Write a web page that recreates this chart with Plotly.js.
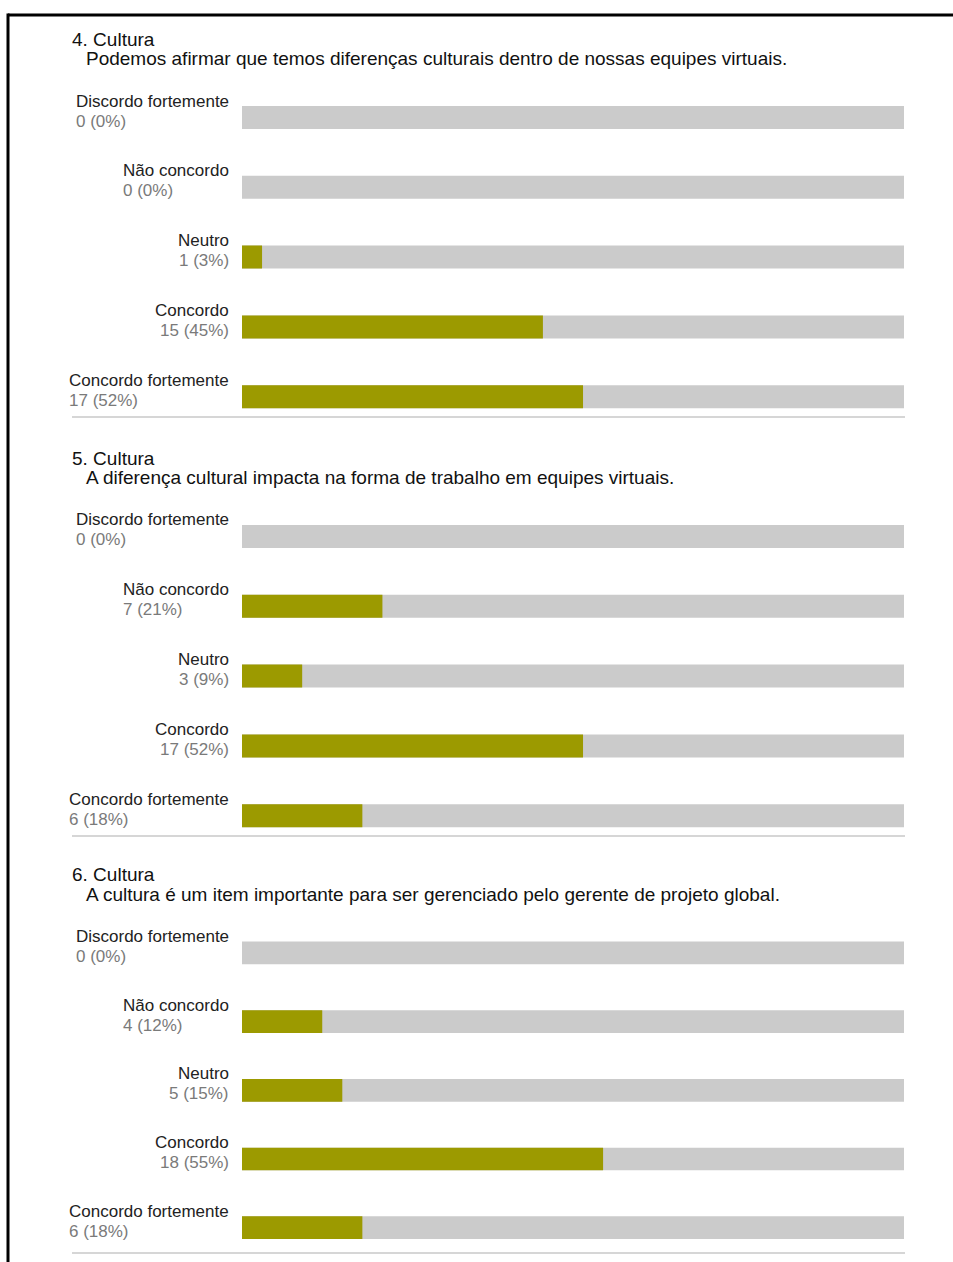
<!DOCTYPE html>
<html>
<head>
<meta charset="utf-8">
<script src="https://cdn.plot.ly/plotly-3.0.1.min.js"></script>
<style>
  html, body { margin: 0; padding: 0; background: #fff; }
  #chart { width: 953px; height: 1262px; }
</style>
</head>
<body>
<div id="chart"></div>
<script>
// ---- data ----
const categories = ["Discordo fortemente", "Não concordo", "Neutro", "Concordo", "Concordo fortemente"];
const questionTitles = ["4. Cultura", "5. Cultura", "6. Cultura"];
const questionTexts = [
  "Podemos afirmar que temos diferenças culturais dentro de nossas equipes virtuais.",
  "A diferença cultural impacta na forma de trabalho em equipes virtuais.",
  "A cultura é um item importante para ser gerenciado pelo gerente de projeto global."
];
const q4Counts = [0, 0, 1, 15, 17];
const q4Pct = [0, 0, 3, 45, 52];
const q5Counts = [0, 7, 3, 17, 6];
const q5Pct = [0, 21, 9, 52, 18];
const q6Counts = [0, 4, 5, 18, 6];
const q6Pct = [0, 12, 15, 55, 18];
const scaleMax = 100;

// ---- layout geometry (pixels) ----
const W = 953, H = 1262;
const px = x => x / W;
const py = y => 1 - y / H;
const sectionFirstRow = [117.5, 536.5, 953.5];
const rowStep = 69.8;
const barLeft = 242, barRight = 904;
const labelRight = 229;
const FONT = "'Liberation Sans', Arial, Helvetica, sans-serif";
const labelSize = 17, titleSize = 19;

const green = "#9c9a00", track = "#cbcbcb";

const measure = (() => {
  const c = document.createElement("canvas").getContext("2d");
  return (t, s) => { c.font = s + "px 'Liberation Sans', Arial, sans-serif"; return c.measureText(t).width; };
})();

const questions = [
  { counts: q4Counts, pct: q4Pct },
  { counts: q5Counts, pct: q5Pct },
  { counts: q6Counts, pct: q6Pct }
];

const traces = [];
const annotations = [];
const shapes = [];
const layout = {
  width: W, height: H,
  margin: { l: 0, r: 0, t: 0, b: 0 },
  paper_bgcolor: "#fff", plot_bgcolor: "#fff",
  showlegend: false,
  barmode: "overlay",
  font: { family: FONT, size: labelSize, color: "#222" },
  annotations: annotations,
  shapes: shapes
};

questions.forEach((q, i) => {
  const n = i === 0 ? "" : String(i + 1);
  const xa = "x" + n, ya = "y" + n;
  const c0 = sectionFirstRow[i];
  const top = c0 - rowStep / 2;
  const bottom = c0 + rowStep * (categories.length - 0.5);
  layout["xaxis" + n] = {
    domain: [px(barLeft), px(barRight)], range: [0, scaleMax],
    visible: false, fixedrange: true, anchor: ya
  };
  layout["yaxis" + n] = {
    domain: [py(bottom), py(top)], type: "category",
    categoryorder: "array", categoryarray: categories,
    range: [categories.length - 0.5, -0.5],
    visible: false, fixedrange: true, anchor: xa
  };
  const total = q.counts.reduce((a, b) => a + b, 0);
  traces.push({
    type: "bar", orientation: "h", xaxis: xa, yaxis: ya,
    y: categories, x: categories.map(() => scaleMax),
    width: 0.33, marker: { color: track }, hoverinfo: "skip"
  });
  traces.push({
    type: "bar", orientation: "h", xaxis: xa, yaxis: ya,
    y: categories, x: q.counts.map(v => v / total * scaleMax),
    width: 0.33, marker: { color: green }, hoverinfo: "skip"
  });

  categories.forEach((cat, k) => {
    const countText = q.counts[k] + " (" + q.pct[k] + "%)";
    const lw = measure(cat, labelSize), cw = measure(countText, labelSize);
    annotations.push({
      xref: "paper", yref: ya, x: px(labelRight), y: cat,
      xanchor: "right", yanchor: "middle", yshift: 16.5,
      borderpad: 0, borderwidth: 0,
      text: cat, showarrow: false,
      font: { family: FONT, size: labelSize, color: "#222" }
    });
    const leftAligned = lw - cw > 20;
    annotations.push({
      xref: "paper", yref: ya,
      x: leftAligned ? px(labelRight - lw) : px(labelRight), y: cat,
      xanchor: leftAligned ? "left" : "right", yanchor: "middle", yshift: -3.5,
      borderpad: 0, borderwidth: 0,
      text: countText, showarrow: false,
      font: { family: FONT, size: labelSize, color: "#7a7a7a" }
    });
  });

  annotations.push({
    xref: "paper", yref: "paper", x: px(72), y: py(c0 - 78.5),
    xanchor: "left", yanchor: "middle", text: questionTitles[i], showarrow: false,
    borderpad: 0, borderwidth: 0,
    font: { family: FONT, size: titleSize, color: "#111" }
  });
  annotations.push({
    xref: "paper", yref: "paper", x: px(86), y: py(c0 - 59),
    xanchor: "left", yanchor: "middle", text: questionTexts[i], showarrow: false,
    borderpad: 0, borderwidth: 0,
    font: { family: FONT, size: titleSize, color: "#111" }
  });
  shapes.push({
    type: "line", xref: "paper", yref: "paper",
    x0: px(72), x1: px(905), y0: py(c0 + 299.5), y1: py(c0 + 299.5),
    line: { color: "#c8c8c8", width: 1.5 }
  });
});

// page frame
shapes.push({ type: "line", xref: "paper", yref: "paper", x0: px(8), x1: px(953), y0: py(15), y1: py(15), line: { color: "#000", width: 3 } });
shapes.push({ type: "line", xref: "paper", yref: "paper", x0: px(8), x1: px(8), y0: py(13.5), y1: py(1262), line: { color: "#000", width: 3 } });

Plotly.newPlot("chart", traces, layout, { displayModeBar: false, staticPlot: true });
</script>
</body>
</html>
